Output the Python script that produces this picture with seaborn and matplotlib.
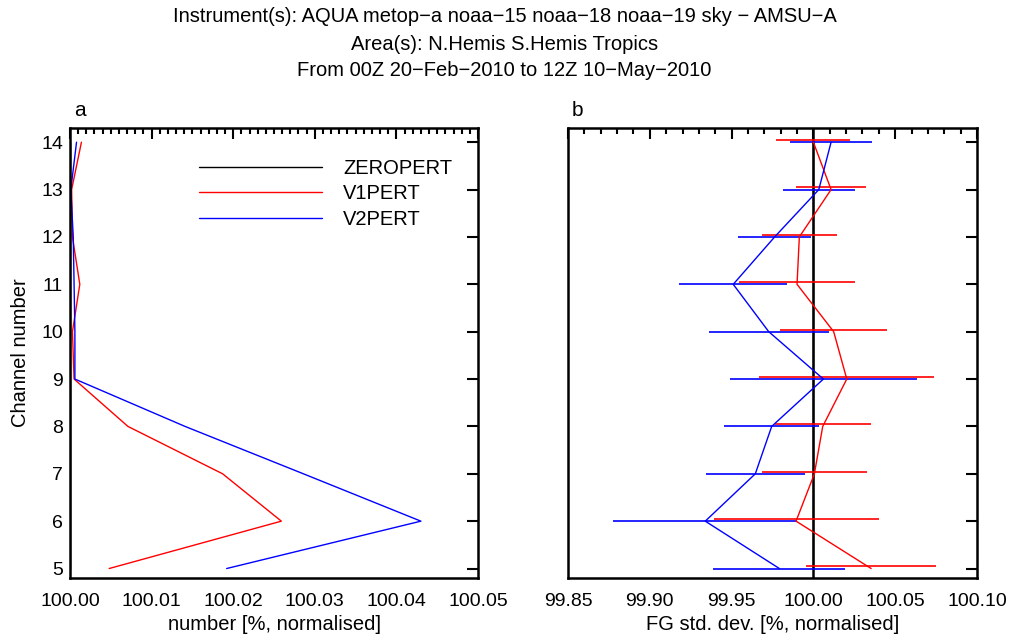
import numpy as np
import matplotlib
matplotlib.use("Agg")
import matplotlib.pyplot as plt
import seaborn as sns
from matplotlib.ticker import MultipleLocator, FormatStrFormatter

sns.set_theme(style="white")
plt.rcParams['font.family'] = ['Liberation Sans', 'DejaVu Sans']
plt.rcParams.update({'text.color': 'black', 'axes.labelcolor': 'black',
                     'xtick.color': 'black', 'ytick.color': 'black'})

# channels 5..14
channels = [5, 6, 7, 8, 9, 10, 11, 12, 13, 14]

# panel a: number [%, normalised]
num_zero = [100.0] * 10
num_v1 = [100.0048, 100.0259, 100.0187, 100.0071, 100.0005, 100.0003, 100.0012, 100.0003, 100.0002, 100.0014]
num_v2 = [100.0192, 100.0430, 100.0286, 100.0141, 100.0006, 100.0006, 100.0005, 100.0004, 100.0001, 100.0008]

# panel b: FG std. dev. [%, normalised] with error bars
sd_zero = [100.0] * 10
sd_v1 = [100.0353, 99.9894, 100.0006, 100.0057, 100.0204, 100.0124, 99.9900, 99.9914, 100.0108, 100.0000]
err_v1 = [0.0398, 0.0504, 0.0319, 0.0293, 0.0536, 0.0326, 0.0354, 0.0228, 0.0214, 0.0226]
sd_v2 = [99.9792, 99.9339, 99.9645, 99.9745, 100.0061, 99.9727, 99.9510, 99.9763, 100.0033, 100.0108]
err_v2 = [0.0403, 0.0561, 0.0303, 0.0289, 0.0571, 0.0366, 0.0330, 0.0222, 0.0220, 0.0251]

names = ['ZEROPERT', 'V1PERT', 'V2PERT']
colours = ['black', 'red', 'blue']

title_lines = ['Instrument(s): AQUA metop\u2212a noaa\u221215 noaa\u221218 noaa\u221219 sky \u2212 AMSU\u2212A',
               'Area(s): N.Hemis S.Hemis Tropics',
               'From 00Z 20\u2212Feb\u22122010 to 12Z 10\u2212May\u22122010']

W, H = 1011, 637
fig = plt.figure(figsize=(W / 100, H / 100), dpi=100)
ax1 = fig.add_axes([70 / W, 1 - 578 / H, 408 / W, 450 / H])
ax2 = fig.add_axes([568 / W, 1 - 578 / H, 409 / W, 450 / H])

# panel a
for vals, name, c in zip([num_zero, num_v1, num_v2], names, colours):
    sns.lineplot(x=vals, y=channels, orient='y', estimator=None, color=c, lw=1.0, label=name, ax=ax1)
ax1.set_xlim(100.0, 100.05)
ax1.xaxis.set_major_locator(MultipleLocator(0.01))
ax1.xaxis.set_minor_locator(MultipleLocator(0.001))
ax1.set_xlabel('number [%, normalised]', fontsize=14.5, labelpad=4)
ax1.set_ylabel('Channel number', fontsize=14.5, labelpad=8)
ax1.legend(loc='upper left', bbox_to_anchor=(0.316, 0.932), frameon=False, fontsize=14.5,
           handlelength=6.1, handletextpad=1.05, labelspacing=0.34, borderpad=0, borderaxespad=0)
ax1.text(0.01, 1.027, 'a', transform=ax1.transAxes, fontsize=15, va='baseline')

# panel b
sns.lineplot(x=sd_zero, y=channels, orient='y', estimator=None, color='black', lw=1.0, ax=ax2, legend=False)
ax2.axvline(100.0, color='black', lw=1.8)
ax2.errorbar(sd_v1, np.array(channels) + 0.045, xerr=err_v1, fmt='none', ecolor='red', elinewidth=1.2, capsize=0)
ax2.errorbar(sd_v2, channels, xerr=err_v2, fmt='none', ecolor='blue', elinewidth=1.2, capsize=0)
sns.lineplot(x=sd_v1, y=channels, orient='y', estimator=None, color='red', lw=1.0, ax=ax2, legend=False)
sns.lineplot(x=sd_v2, y=channels, orient='y', estimator=None, color='blue', lw=1.0, ax=ax2, legend=False)
ax2.set_xlim(99.85, 100.10)
ax2.xaxis.set_major_locator(MultipleLocator(0.05))
ax2.xaxis.set_minor_locator(MultipleLocator(0.01))
ax2.set_xlabel('FG std. dev. [%, normalised]', fontsize=14.5, labelpad=4)
ax2.set_ylabel('')
ax2.tick_params(axis='y', labelleft=False)
ax2.text(0.01, 1.027, 'b', transform=ax2.transAxes, fontsize=15, va='baseline')

for ax in (ax1, ax2):
    ax.set_ylim(4.8, 14.3)
    ax.yaxis.set_major_locator(MultipleLocator(1))
    ax.xaxis.set_major_formatter(FormatStrFormatter('%.2f'))
    ax.tick_params(which='both', direction='in', top=True, right=True, colors='black', width=1.5)
    ax.tick_params(which='major', length=8, labelsize=14)
    ax.tick_params(which='minor', length=4)
    ax.tick_params(axis='x', pad=10.5)
    ax.tick_params(axis='y', pad=5)
    for s in ax.spines.values():
        s.set_linewidth(1.8)
        s.set_color('black')
    ax.grid(False)

for i, line in enumerate(title_lines):
    fig.text(0.499, 1 - (17 + 27 * i) / H, line, ha='center', va='center', fontsize=14.5,
             family=['Liberation Sans', 'DejaVu Sans'])

fig.savefig('out.png', dpi=100, facecolor='white')
